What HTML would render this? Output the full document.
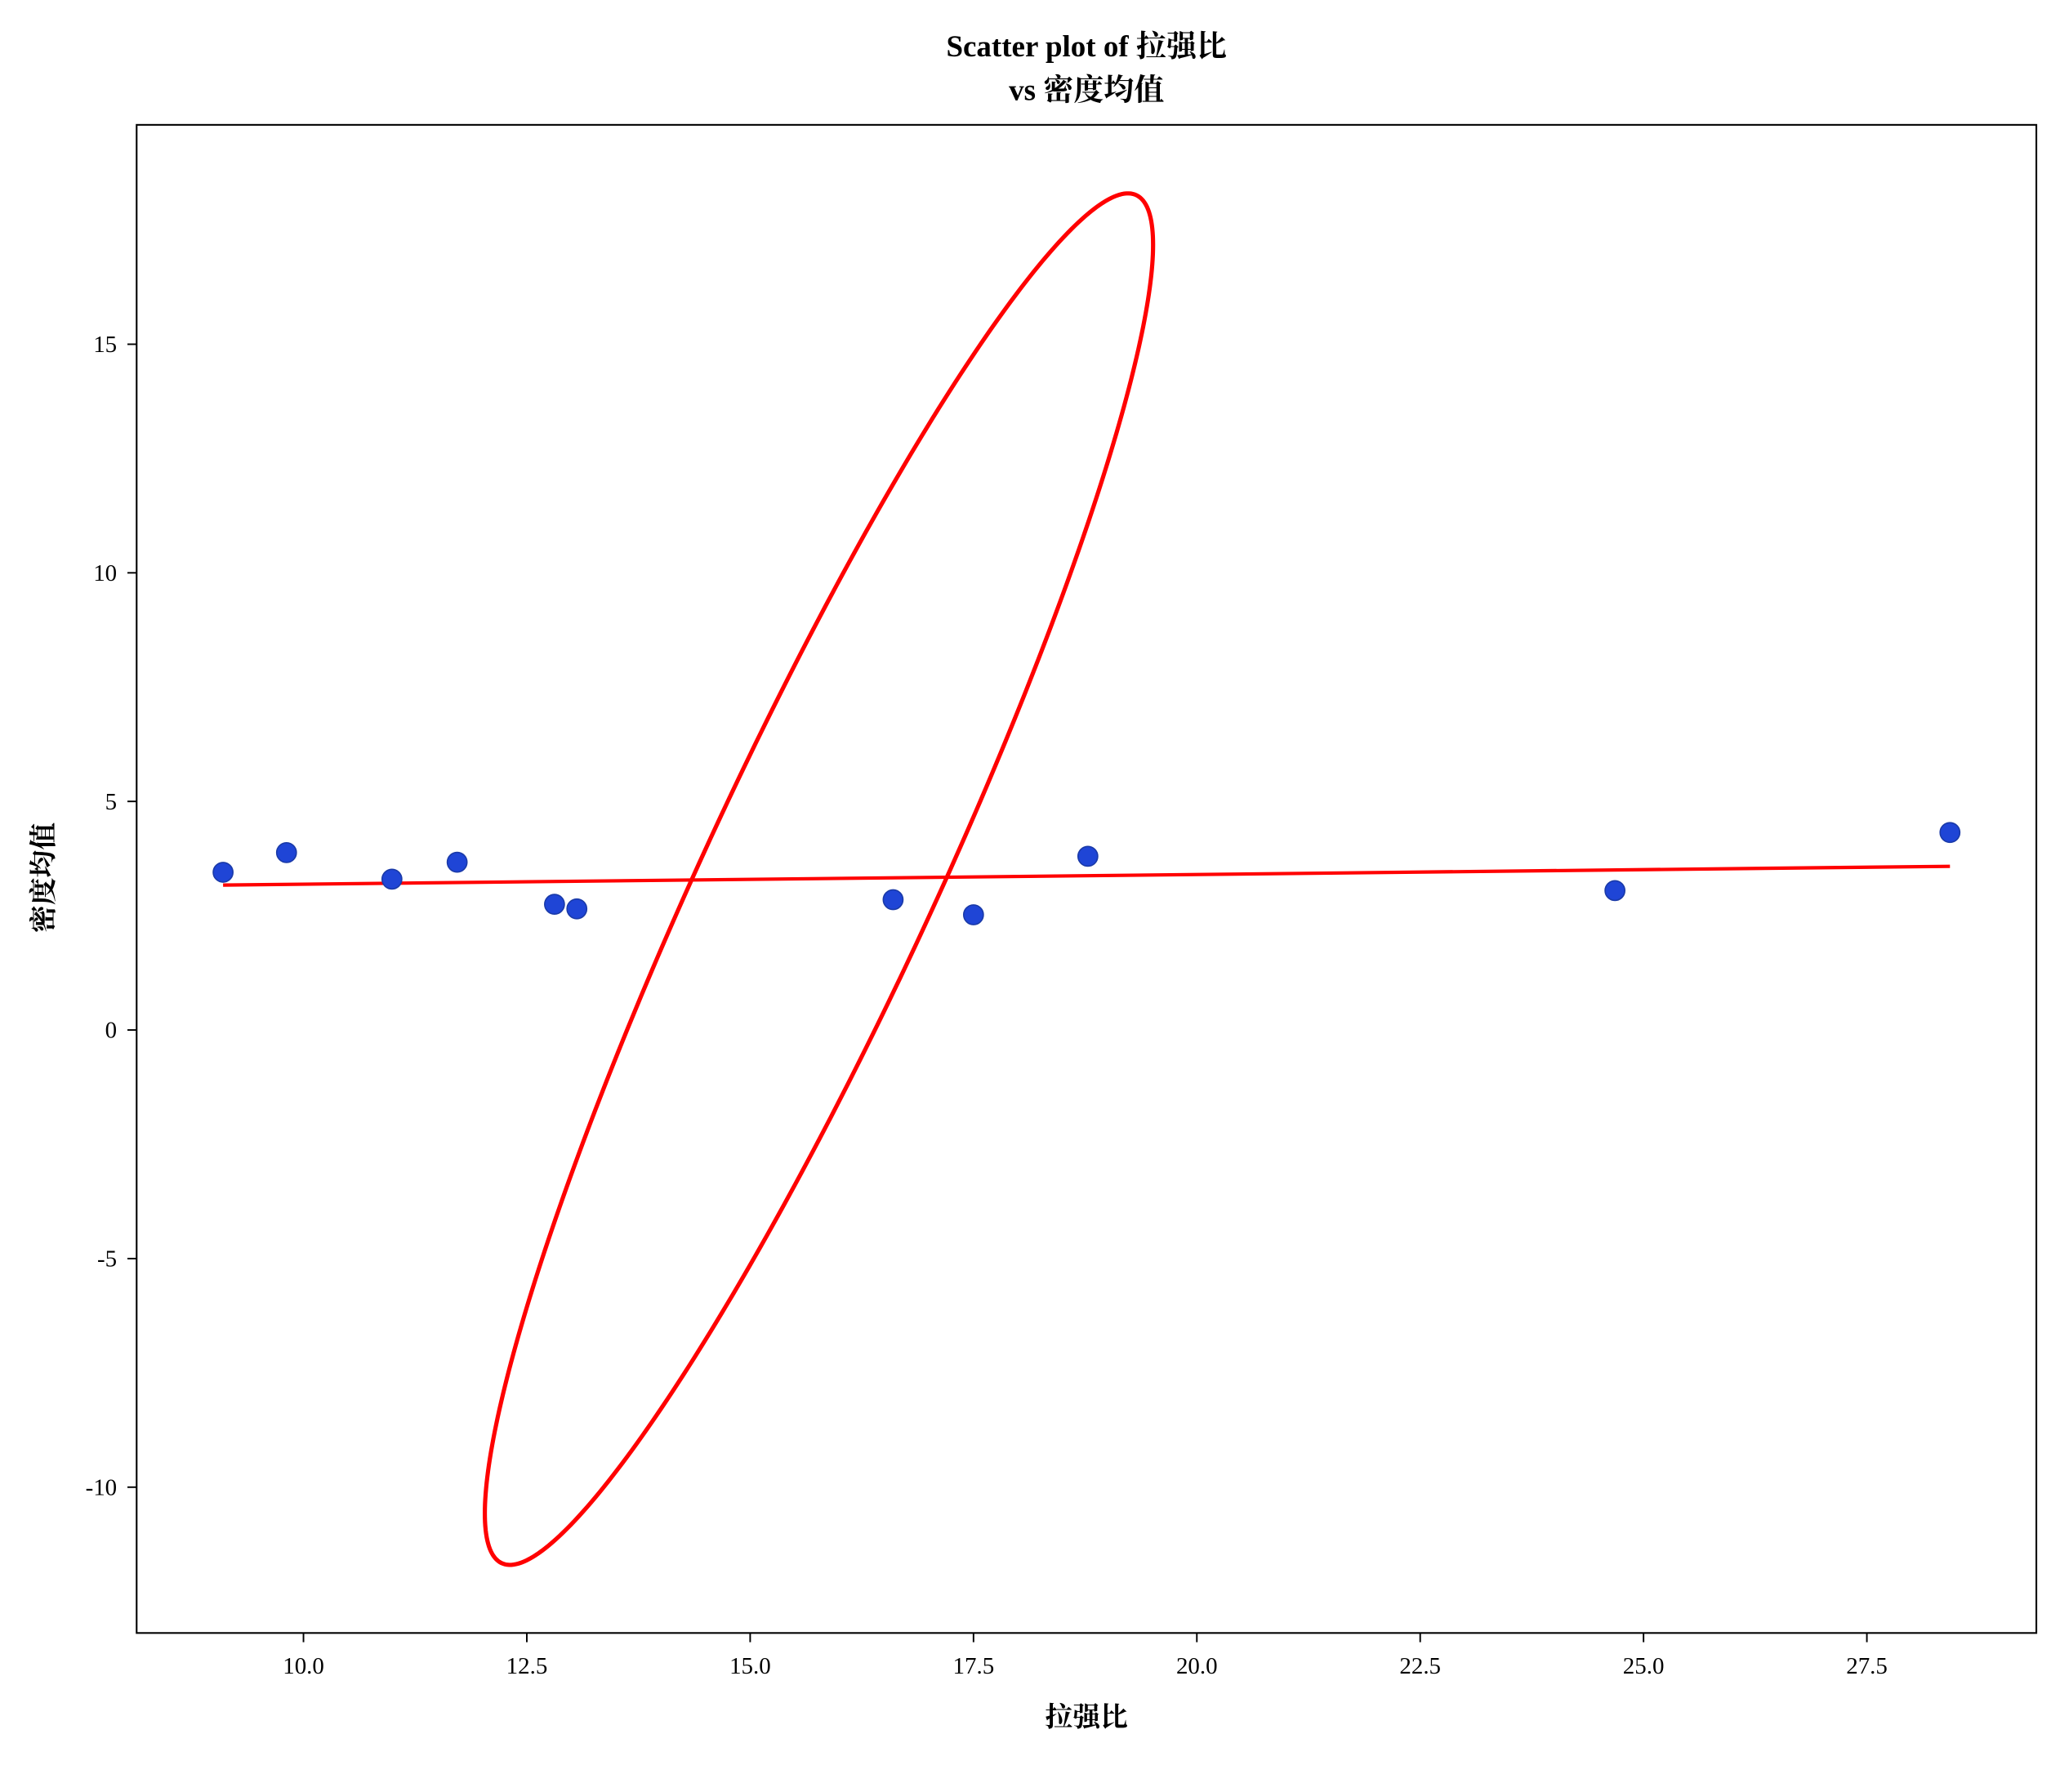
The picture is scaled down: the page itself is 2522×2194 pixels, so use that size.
<!DOCTYPE html>
<html><head><meta charset="utf-8"><style>
html,body{margin:0;padding:0;background:#fff;}
svg{display:block;}
text{font-family:"Liberation Serif","Noto Serif CJK SC",serif;fill:#000;}
</style></head><body>
<svg id="chart" width="2522" height="2194" viewBox="0 0 1568 1364" xmlns="http://www.w3.org/2000/svg">
<rect x="0" y="0" width="1568" height="1364" fill="#fff"/>
<text x="827" y="43" text-anchor="middle" font-size="23" font-weight="bold">Scatter plot of 拉强比</text>
<text x="827" y="76" text-anchor="middle" font-size="23" font-weight="bold">vs 密度均值</text>
<g id="plot"></g>
<rect x="104" y="95" width="1446" height="1148" fill="none" stroke="#000" stroke-width="1.3"/>
<text x="827" y="1314" text-anchor="middle" font-size="21" font-weight="bold">拉强比</text>
<text transform="translate(40,668) rotate(-90)" text-anchor="middle" font-size="21" font-weight="bold">密度均值</text>
</svg>
<script>
const xs = [9.10, 9.81, 10.99, 11.72, 12.81, 13.06, 16.6, 17.5, 18.78, 24.68, 28.43];
const ys = [3.45, 3.88, 3.3, 3.67, 2.75, 2.65, 2.85, 2.52, 3.8, 3.05, 4.32];
const fitX = [9.1, 28.43];
const fitY = [3.17, 3.58];
const ellipseCenter = [15.77, 3.3];
const ellipseSpread = [3.74, 15.0];
const ellipsePhase = [0.39];
const xTicks = [10, 12.5, 15, 17.5, 20, 22.5, 25, 27.5];
const xTickLabels = ["10.0","12.5","15.0","17.5","20.0","22.5","25.0","27.5"];
const yTicks = [-10, -5, 0, 5, 10, 15];
const yTickLabels = ["-10","-5","0","5","10","15"];

const NS = "http://www.w3.org/2000/svg";
const g = document.getElementById('plot');
function X(v){ return 231 + (v - 10) * 68; }
function Y(v){ return 784 - v * 34.8; }
function mk(tag, attrs){ const e = document.createElementNS(NS, tag); for (const k in attrs) e.setAttribute(k, attrs[k]); g.appendChild(e); return e; }

xTicks.forEach((t, i) => {
  const l = mk('line', {x1:X(t), x2:X(t), y1:1243, y2:1250, stroke:'#000', 'stroke-width':1.2});
  
  
  const tx = mk('text', {x:X(t), y:1274, 'text-anchor':'middle', 'font-size':18});
  tx.textContent = xTickLabels[i];
  
  
});
yTicks.forEach((t, i) => {
  const l = mk('line', {x1:97, x2:104, y1:Y(t), y2:Y(t), stroke:'#000', 'stroke-width':1.2});
  
  
  const tx = mk('text', {x:89, y:Y(t)+6, 'text-anchor':'end', 'font-size':18});
  tx.textContent = yTickLabels[i];
  
  
});

let d = '';
for (let k = 0; k <= 360; k++) {
  const t = k / 360 * 2 * Math.PI;
  const ex = ellipseCenter[0] + ellipseSpread[0] * Math.cos(t);
  const ey = ellipseCenter[1] + ellipseSpread[1] * Math.cos(t - ellipsePhase[0]);
  d += (k ? 'L' : 'M') + X(ex).toFixed(2) + ',' + Y(ey).toFixed(2);
}
const el = mk('path', {d:d + 'Z', fill:'none', stroke:'#ff0000', 'stroke-width':3.2});



const rl = mk('line', {x1:X(fitX[0]), y1:Y(fitY[0]), x2:X(fitX[1]), y2:Y(fitY[1]), stroke:'#ff0000', 'stroke-width':2.6});



xs.forEach((v, i) => {
  const c = mk('circle', {cx:X(v), cy:Y(ys[i]), r:7.5, fill:'#1f45d6', stroke:'#1a3aa8', 'stroke-width':1});
  
  
});
</script>
</body></html>
